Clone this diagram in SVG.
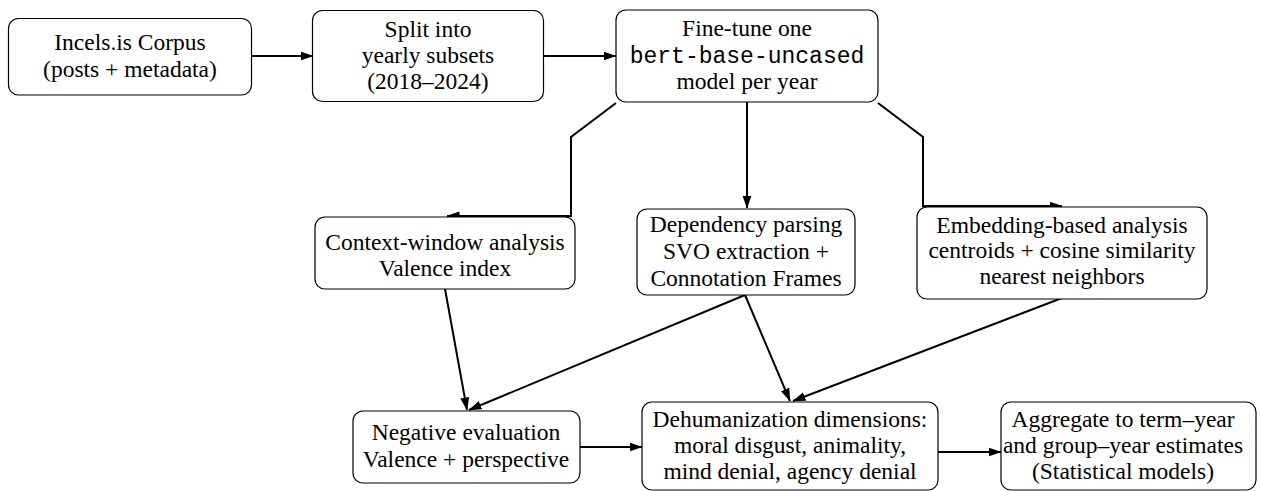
<svg xmlns="http://www.w3.org/2000/svg" width="1261" height="491" viewBox="0 0 1261 491">
<defs>
<marker id="ah" markerWidth="13" markerHeight="10" refX="12.5" refY="5" orient="auto" markerUnits="userSpaceOnUse">
<path d="M0,0.5 L13,5 L0,9.5 z" fill="#000"/>
</marker>
<style>
.box{fill:#fff;stroke:#000;stroke-width:1.2}
text{font-family:'Liberation Serif','Times New Roman',Times,serif;font-size:23.5px;fill:#000;text-anchor:middle}
text.m{font-family:'Liberation Mono','Courier New',Courier,monospace;font-size:23px}
.c{fill:none;stroke:#000;stroke-width:2;marker-end:url(#ah)}
</style>
</defs>
<rect width="1261" height="491" fill="#fff"/>
<g id="connectors">
<path class="c" d="M251,56 L313,56"/>
<path class="c" d="M544,56 L616,56"/>
<path class="c" d="M616,103 L571,137 L571,216 L447,216"/>
<path class="c" d="M747,102 L747,208"/>
<path class="c" d="M878,103 L923,137 L923,206 L1062,206"/>
<path class="c" d="M445,289 L467,410"/>
<path class="c" d="M745,295 L469,410"/>
<path class="c" d="M745,295 L790,401"/>
<path class="c" d="M1062,298 L793,401"/>
<path class="c" d="M580,447 L642,447"/>
<path class="c" d="M938,452 L1001,452"/>
</g>
<g id="n1"><rect class="box" x="8.5" y="18.5" width="243" height="76.5" rx="10"/>
<text x="130" y="50">Incels.is Corpus</text><text x="130" y="77">(posts + metadata)</text></g>
<g id="n2"><rect class="box" x="312.5" y="10.5" width="231" height="91" rx="10"/>
<text x="428" y="37">Split into</text><text x="428" y="63">yearly subsets</text><text x="428" y="89">(2018–2024)</text></g>
<g id="n3"><rect class="box" x="616" y="10" width="262" height="92" rx="10"/>
<text x="747" y="36">Fine-tune one</text><text class="m" x="747" y="63">bert-base-uncased</text><text x="747" y="89">model per year</text></g>
<g id="n4"><rect class="box" x="315" y="217" width="260" height="72" rx="10"/>
<text x="445" y="250">Context-window analysis</text><text x="445" y="276">Valence index</text></g>
<g id="n5"><rect class="box" x="637" y="209" width="218" height="86" rx="10"/>
<text x="746" y="232">Dependency parsing</text><text x="746" y="259">SVO extraction +</text><text x="746" y="286">Connotation Frames</text></g>
<g id="n6"><rect class="box" x="917" y="207" width="290" height="92" rx="10"/>
<text x="1062" y="233">Embedding-based analysis</text><text x="1062" y="258">centroids + cosine similarity</text><text x="1062" y="284">nearest neighbors</text></g>
<g id="n7"><rect class="box" x="353" y="411" width="227" height="72" rx="10"/>
<text x="466" y="440">Negative evaluation</text><text x="466" y="467">Valence + perspective</text></g>
<g id="n8"><rect class="box" x="642" y="402" width="296" height="88" rx="10"/>
<text x="790" y="427">Dehumanization dimensions:</text><text x="790" y="453">moral disgust, animality,</text><text x="790" y="479">mind denial, agency denial</text></g>
<g id="n9"><rect class="box" x="1001" y="402" width="255" height="88" rx="10"/>
<text x="1123" y="427">Aggregate to term–year</text><text x="1123" y="453">and group–year estimates</text><text x="1123" y="479">(Statistical models)</text></g>
</svg>
